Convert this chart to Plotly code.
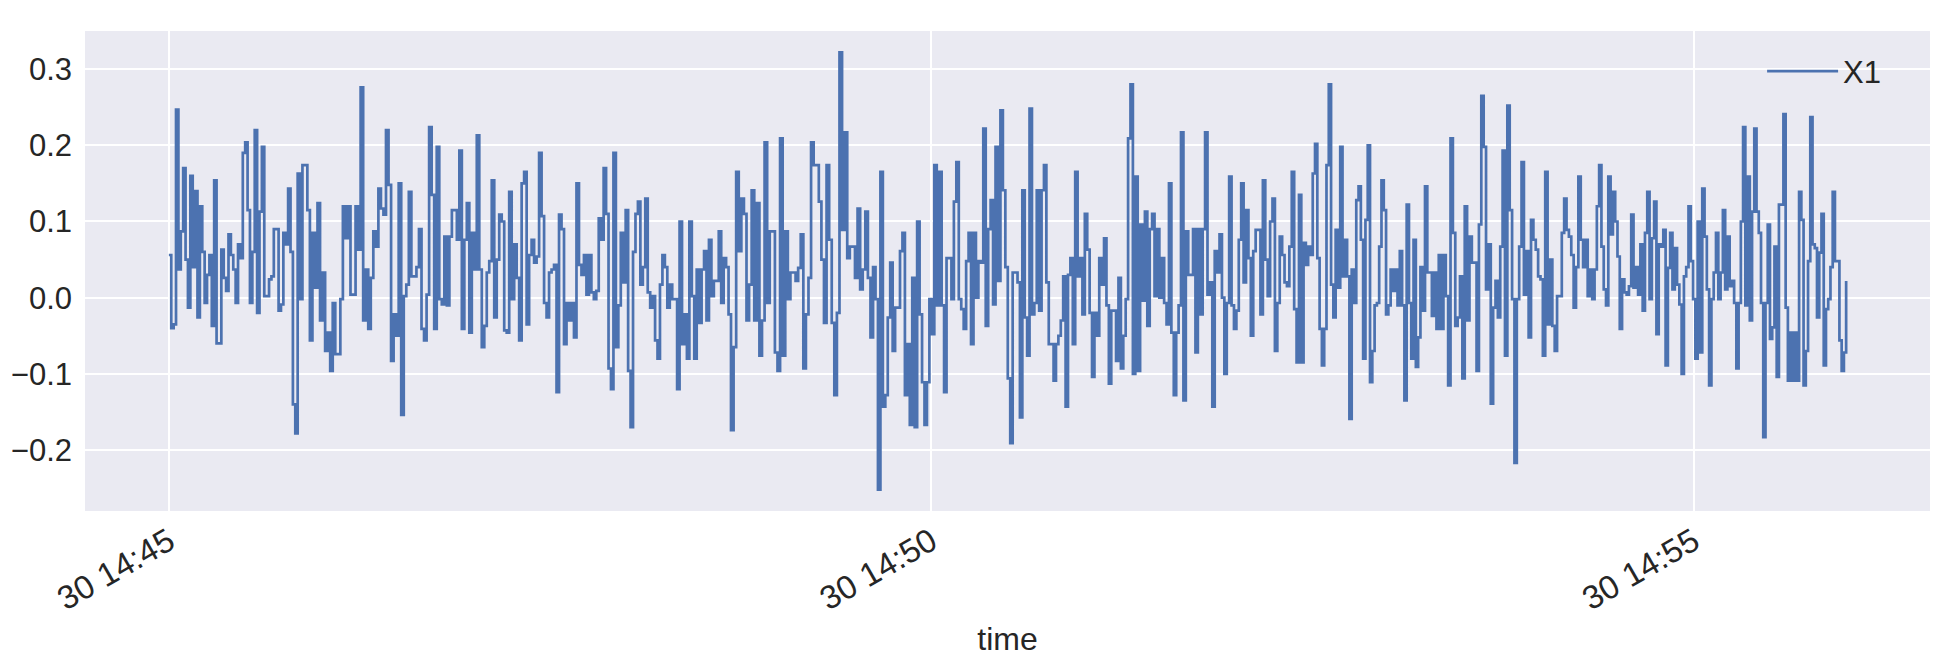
import numpy as np
import pandas as pd
import plotly.graph_objects as go

start_time = "2017-05-30 14:45:00"
series_name = "X1"

# approximate start time (seconds after 14:45:00) of each block of readings; last entry = final sample
segment_start_s = [0.0, 53.5, 109.4, 165.3, 221.2, 277.1, 333.0, 388.8, 444.7, 500.6, 556.5, 612.4, 660.0]

seg01 = [0.056, -0.04, -0.035, 0.247, 0.037, 0.087, 0.17, 0.05, -0.013, 0.16, 0.04, 0.14, -0.026, 0.12, 0.06, -0.007, 0.03, 0.056, -0.037, 0.154, -0.06, -0.06, 0.063, 0.026, 0.009, 0.083, 0.056, 0.037, -0.007, 0.07, 0.052, 0.19, 0.204, 0.115, -0.007, 0.06, 0.22, -0.02, 0.113, 0.198, 0.002, 0.002, 0.024, 0.028, 0.09, 0.09, -0.017, -0.009, 0.085, 0.07, 0.143, 0.06, -0.14, -0.178, 0.163, -0.002, 0.174]
seg02 = [0.174, 0.115, -0.056, 0.085, 0.013, 0.124, -0.03, 0.033, -0.07, -0.046, -0.096, -0.007, -0.074, -0.074, -0.002, 0.12, 0.078, 0.12, 0.004, 0.004, 0.12, 0.063, 0.276, -0.03, 0.037, -0.041, 0.026, 0.087, 0.067, 0.143, 0.117, 0.109, 0.22, 0.148, -0.083, -0.022, -0.05, 0.15, -0.154, 0.002, 0.017, 0.139, 0.028, 0.028, 0.04, 0.09, -0.041, -0.056, 0.004, 0.224, 0.135, -0.041, 0.198, -0.002, -0.009, 0.08]
seg03 = [-0.01, 0.08, 0.115, 0.115, 0.076, 0.193, -0.041, 0.076, 0.124, -0.046, 0.085, 0.037, 0.213, 0.037, -0.065, -0.037, 0.033, 0.048, 0.154, -0.026, 0.05, 0.109, 0.1, -0.043, -0.046, 0.139, -0.002, 0.07, 0.026, -0.056, 0.15, 0.165, -0.035, 0.056, 0.076, 0.046, 0.054, 0.19, 0.107, -0.007, -0.026, 0.033, 0.037, 0.043, -0.124, 0.109, 0.09, -0.061, -0.007, -0.03, -0.007, -0.052, 0.15, 0.043, 0.03, 0.056, 0.004]
seg04 = [0.056, 0.007, -0.002, 0.009, 0.104, 0.076, 0.17, 0.11, -0.093, -0.12, 0.19, -0.065, -0.01, 0.085, 0.02, 0.115, -0.096, -0.17, 0.06, 0.11, 0.126, 0.017, 0.04, 0.13, 0.007, -0.013, 0.002, -0.056, -0.08, 0.017, 0.056, 0.04, -0.013, 0.017, -0.002, -0.002, -0.12, 0.1, -0.061, -0.022, -0.08, 0.1, 0.002, -0.08, 0.037, -0.033, 0.037, 0.061, -0.03, 0.076, 0.002, 0.022, 0.022, 0.087, -0.007, 0.052, 0.04, -0.022]
seg05 = [-0.174, -0.065, 0.165, 0.061, 0.13, 0.11, -0.03, 0.017, 0.141, -0.03, 0.124, -0.076, -0.03, 0.204, -0.007, 0.087, 0.087, -0.072, -0.096, 0.209, -0.076, 0.087, -0.002, 0.033, 0.033, 0.022, 0.039, 0.083, -0.093, -0.022, 0.026, 0.204, 0.174, 0.174, 0.126, 0.05, -0.033, 0.174, 0.076, -0.033, -0.128, -0.02, 0.322, 0.089, 0.217, 0.052, 0.067, 0.067, 0.026, 0.117, 0.011, 0.037, 0.113, 0.026, -0.052]
seg06 = [0.04, -0.002, -0.252, 0.165, -0.143, -0.128, -0.026, 0.046, -0.07, -0.013, -0.013, 0.061, 0.085, -0.128, -0.061, -0.167, 0.026, -0.17, 0.1, -0.022, -0.111, -0.167, -0.111, -0.002, -0.048, 0.174, -0.01, 0.165, -0.01, -0.124, 0.052, 0.052, -0.002, 0.126, 0.178, -0.002, -0.015, -0.041, 0.048, 0.085, -0.061, 0.085, 0.0, 0.048, 0.046, 0.222, -0.037, 0.09, 0.128, -0.009, 0.198, 0.022, 0.246, 0.141, 0.04, -0.106, -0.191, 0.033]
seg07 = [0.033, 0.02, -0.157, 0.141, -0.026, -0.076, 0.248, -0.022, -0.007, 0.141, -0.017, 0.141, 0.174, 0.02, -0.061, -0.061, -0.109, -0.061, -0.05, -0.03, 0.028, -0.143, 0.03, 0.052, -0.061, 0.165, 0.028, 0.052, -0.022, 0.11, 0.063, -0.02, -0.104, -0.02, -0.05, 0.052, 0.017, 0.078, -0.01, -0.113, -0.017, -0.017, -0.083, 0.026, -0.093, -0.05, -0.002, 0.209, 0.28, -0.1, 0.159, -0.096, 0.096, -0.004, 0.113, -0.037, 0.09, 0.11, 0.002]
seg08 = [0.09, 0.0, 0.052, -0.007, -0.035, 0.15, -0.046, -0.128, -0.046, -0.01, 0.217, -0.135, 0.087, 0.03, 0.03, 0.09, -0.072, 0.09, -0.022, 0.09, 0.217, 0.004, 0.02, -0.143, 0.061, 0.033, 0.083, 0.0, -0.1, -0.007, 0.159, -0.01, -0.041, -0.017, 0.076, 0.15, 0.02, 0.115, 0.052, -0.05, 0.061, 0.089, 0.089, -0.022, 0.154, 0.05, 0.002, 0.1, 0.13, -0.07, -0.007, 0.08, 0.056, 0.02, 0.015, 0.067, 0.165, -0.015, -0.085]
seg09 = [0.135, -0.085, 0.072, 0.043, 0.067, 0.056, 0.163, 0.202, 0.052, -0.041, -0.089, -0.041, 0.174, 0.28, 0.017, -0.026, 0.089, 0.013, 0.198, 0.028, 0.076, 0.028, -0.159, 0.037, -0.007, 0.128, 0.146, 0.076, -0.08, 0.102, 0.2, -0.111, -0.07, -0.01, -0.007, 0.067, 0.154, 0.115, -0.022, -0.01, 0.037, 0.009, 0.037, -0.01, 0.061, -0.01, -0.135, 0.122, -0.007, -0.08, 0.076, -0.091, -0.052, 0.04, -0.017, 0.146, 0.033, 0.033, -0.024, 0.033, -0.041, 0.056]
seg10 = [-0.041, 0.056, 0.002, -0.115, 0.209, 0.085, -0.037, -0.026, 0.028, -0.106, 0.12, -0.03, 0.08, 0.046, 0.046, -0.096, 0.096, 0.265, 0.198, 0.011, 0.07, -0.139, -0.013, 0.022, -0.026, 0.067, 0.193, -0.076, 0.252, 0.115, -0.002, -0.217, -0.002, 0.067, 0.178, 0.004, 0.061, -0.052, 0.102, 0.076, 0.063, 0.028, 0.024, -0.076, 0.165, -0.035, 0.05, -0.037, -0.07, 0.002, 0.002, 0.085, 0.13, 0.089, 0.08, 0.056, -0.013, 0.04, 0.159, 0.076]
seg11 = [0.04, 0.076, 0.002, 0.037, -0.002, 0.037, 0.12, 0.174, 0.067, 0.011, -0.01, 0.159, 0.083, 0.139, 0.1, 0.054, -0.041, 0.024, 0.007, 0.004, 0.015, 0.109, 0.013, 0.04, 0.004, 0.07, -0.017, 0.085, 0.139, -0.002, 0.078, 0.126, -0.048, 0.07, 0.067, 0.089, -0.089, 0.039, 0.085, 0.011, 0.065, 0.017, -0.009, -0.1, 0.028, 0.04, 0.12, 0.048, -0.002, -0.08, 0.1, -0.072, 0.143, 0.08, 0.011, -0.115, -0.002, 0.033, 0.085, -0.002, 0.033, 0.115]
seg12 = [0.011, 0.08, 0.015, 0.022, -0.007, -0.093, -0.007, 0.1, 0.224, -0.01, 0.159, -0.03, 0.113, 0.222, 0.113, 0.085, -0.007, -0.183, -0.007, 0.096, -0.054, -0.039, 0.067, -0.104, 0.122, 0.122, 0.241, -0.013, -0.109, -0.046, -0.109, -0.046, -0.109, 0.139, 0.102, -0.115, -0.07, 0.048, 0.237, 0.07, 0.065, -0.026, 0.059, 0.11, -0.089, -0.015, -0.002, 0.04, 0.139, 0.048, 0.048, -0.056, -0.096, -0.072, 0.022]

segments = [seg01, seg02, seg03, seg04, seg05, seg06, seg07, seg08, seg09, seg10, seg11, seg12]

offsets = []
values = []
for k, seg in enumerate(segments):
    a, b = segment_start_s[k], segment_start_s[k + 1]
    last = (k == len(segments) - 1)
    offsets.extend(np.linspace(a, b, len(seg), endpoint=last).tolist())
    values.extend(seg)

t0 = pd.Timestamp(start_time)
times = t0 + pd.to_timedelta(np.array(offsets), unit="s")

fig = go.Figure()
fig.add_trace(go.Scatter(
    x=times, y=values, mode="lines", name=series_name,
    line=dict(color="#4C72B0", width=2.7, shape="hv"),
))

font_family = "Liberation Sans, Arial, sans-serif"
text_color = "#262626"
xmin = t0 - pd.Timedelta(seconds=33)
xmax = t0 + pd.Timedelta(seconds=693)

# the page body has an 8px default margin, so the figure is sized to fit the window
fig.update_layout(
    width=1948, height=658,
    margin=dict(l=77, r=26, t=23, b=155),
    paper_bgcolor="white",
    plot_bgcolor="#EAEAF2",
    font=dict(family=font_family, size=31, color=text_color),
    showlegend=True,
    legend=dict(x=0.909, y=0.972, xanchor="left", yanchor="top",
                itemwidth=71,
                bgcolor="rgba(0,0,0,0)", font=dict(size=31, color=text_color)),
    xaxis=dict(
        range=[xmin, xmax], type="date", automargin=False,
        tick0=t0, dtick=300000, tickformat="%d %H:%M",
        tickangle=-30, showgrid=True, gridcolor="white", gridwidth=1.6,
        zeroline=False, showline=False, ticks="", ticklabelstandoff=4,
        tickfont=dict(size=33, color=text_color),
        title=dict(text="time", font=dict(size=32, color=text_color), standoff=11),
    ),
    yaxis=dict(
        range=[-0.28, 0.35], dtick=0.1, tick0=0, tickformat=".1f",
        automargin=False,
        showgrid=True, gridcolor="white", gridwidth=1.6,
        zeroline=False, showline=False, ticks="", ticklabelstandoff=12,
        tickfont=dict(size=31, color=text_color),
    ),
)

fig.write_html("out.html")
